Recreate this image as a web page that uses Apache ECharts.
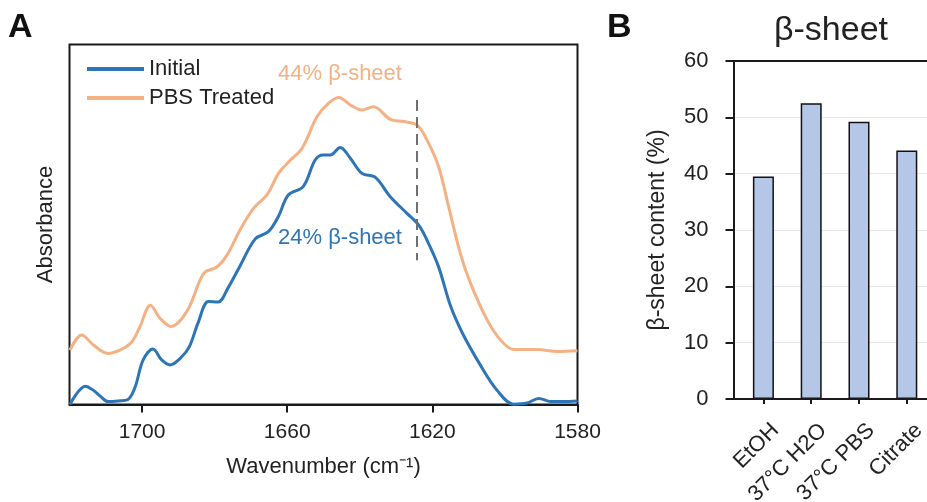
<!DOCTYPE html>
<html>
<head>
<meta charset="utf-8">
<script src="https://cdn.jsdelivr.net/npm/echarts@6/dist/echarts.min.js"></script>
<style>
html,body{margin:0;padding:0;background:#fff;}
#chart{width:927px;height:502px;}
</style>
</head>
<body>
<div id="chart"></div>
<script>
// ---------- Panel A: FTIR spectra ----------
const wnInitial = [1719.9,1715.6,1713.5,1711.6,1709.4,1706.6,1703.9,1701.9,1699.7,1697.0,1694.6,1692.3,1689.5,1687.0,1684.6,1681.7,1679.0,1676.3,1673.0,1668.8,1665.2,1662.5,1659.7,1655.6,1652.3,1650.1,1648.1,1645.4,1642.6,1639.4,1635.7,1631.6,1627.0,1623.8,1621.5,1618.3,1615.0,1611.7,1606.8,1602.2,1597.6,1593.9,1590.7,1587.4,1583.9,1580.0];
const absInitial = [0.000,0.051,0.040,0.024,0.008,0.010,0.014,0.049,0.124,0.154,0.124,0.110,0.128,0.160,0.226,0.286,0.285,0.324,0.385,0.460,0.480,0.521,0.582,0.605,0.679,0.693,0.693,0.714,0.684,0.642,0.631,0.577,0.531,0.499,0.457,0.383,0.274,0.198,0.110,0.040,0.001,0.004,0.017,0.008,0.008,0.010];
const wnPBS = [1719.9,1716.6,1713.4,1709.4,1706.1,1703.0,1700.6,1697.7,1695.0,1692.0,1687.7,1684.0,1682.6,1679.4,1676.6,1673.0,1669.3,1665.6,1662.4,1659.6,1655.9,1651.8,1648.6,1645.8,1642.6,1639.4,1636.2,1631.6,1627.9,1624.2,1621.5,1618.3,1615.5,1612.3,1609.5,1604.9,1601.2,1597.6,1591.1,1585.6,1580.0];
const absPBS = [0.151,0.193,0.165,0.142,0.151,0.172,0.216,0.276,0.239,0.217,0.258,0.346,0.368,0.382,0.415,0.485,0.545,0.582,0.642,0.674,0.712,0.799,0.837,0.853,0.832,0.818,0.827,0.792,0.786,0.776,0.735,0.661,0.549,0.420,0.337,0.235,0.179,0.153,0.153,0.147,0.149];
const wnTicks = [1700,1660,1620,1580];
const markerWn = 1624.4;
const markerRange = [0.846, 0.401];

// ---------- Panel B: beta-sheet content ----------
const conditions = ['EtOH','37°C H2O','37°C PBS','Citrate'];
const betaSheet = [39.5, 52.5, 49.2, 44.1];

const FONT = 'Liberation Sans, Arial, Helvetica, sans-serif';
const BLUE = '#2E75B6';
const ORANGE = '#F4B183';
const INK = '#222';

const chart = echarts.init(document.getElementById('chart'), null, {renderer:'canvas'});

const option = {
  backgroundColor:'#fff',
  animation:false,
  textStyle:{fontFamily:FONT},
  title:{
    text:'β-sheet', left:826, top:9, textAlign:'center',
    textStyle:{fontSize:34, fontWeight:'normal', color:INK, fontFamily:FONT}
  },
  legend:{
    orient:'vertical', left:87, top:58, padding:0,
    itemWidth:57, itemHeight:4, itemGap:7, icon:'rect',
    textStyle:{fontSize:22, color:INK, fontFamily:FONT},
    data:['Initial','PBS Treated']
  },
  grid:[
    {left:69.5, top:44.5, width:508, height:360, show:true, borderColor:'#1a1a1a', borderWidth:2, backgroundColor:'transparent', containLabel:false, outerBoundsMode:'none'},
    {left:733.5, top:61, right:-30, height:338, containLabel:false, outerBoundsMode:'none'},
    {left:739.5, top:61, width:191.2, height:338, containLabel:false, outerBoundsMode:'none'}
  ],
  xAxis:[
    {gridIndex:0, type:'value', min:1580, max:1720, inverse:true,
     axisLine:{show:true, lineStyle:{color:'#1a1a1a', width:2}},
     axisTick:{show:true, customValues:wnTicks, length:8, lineStyle:{color:'#1a1a1a', width:2}},
     axisLabel:{customValues:wnTicks, formatter:(v)=>String(v), fontSize:21, color:INK, margin:17, fontFamily:FONT},
     splitLine:{show:false},
     name:'Wavenumber (cm⁻¹)', nameLocation:'middle', nameGap:51,
     nameTextStyle:{fontSize:22, color:INK, fontFamily:FONT}
    },
    {gridIndex:1, type:'value', min:0, max:1, position:'bottom', z:5,
     axisLine:{show:true, lineStyle:{color:'#1a1a1a', width:2}},
     axisTick:{show:false}, axisLabel:{show:false}, splitLine:{show:false}},
    {gridIndex:1, type:'value', min:0, max:1, position:'top', z:5,
     axisLine:{show:true, lineStyle:{color:'#1a1a1a', width:2}},
     axisTick:{show:false}, axisLabel:{show:false}, splitLine:{show:false}},
    {gridIndex:2, type:'category', data:conditions,
     axisLine:{show:false},
     axisTick:{show:true, alignWithLabel:true, length:5, lineStyle:{color:'#1a1a1a', width:2}},
     axisLabel:{rotate:45, fontSize:22, color:INK, margin:16, interval:0, verticalAlign:'top', padding:[6,0,0,0], fontFamily:FONT}
    }
  ],
  yAxis:[
    {gridIndex:0, type:'value', min:0, max:1,
     axisLine:{show:false}, axisTick:{show:false}, axisLabel:{show:false}, splitLine:{show:false},
     name:'Absorbance', nameLocation:'middle', nameGap:13,
     nameTextStyle:{fontSize:22, color:INK, fontFamily:FONT}
    },
    {gridIndex:1, type:'value', min:0, max:60, interval:10,
     axisLine:{show:true, lineStyle:{color:'#1a1a1a', width:2}},
     axisTick:{show:true, inside:false, length:8, lineStyle:{color:'#1a1a1a', width:2}},
     axisLabel:{fontSize:22, color:INK, margin:25, fontFamily:FONT},
     splitLine:{show:true, showMinLine:false, showMaxLine:false, lineStyle:{color:'#e8e8e8', width:1}},
     name:'β-sheet content (%)', nameLocation:'middle', nameGap:64,
     nameTextStyle:{fontSize:23, color:INK, fontFamily:FONT}
    },
    {gridIndex:2, type:'value', min:0, max:60, show:false}
  ],
  series:[
    {name:'Initial', type:'line', xAxisIndex:0, yAxisIndex:0,
     data:wnInitial.map((w,i)=>[w, absInitial[i]]),
     smooth:0.35, symbol:'none', lineStyle:{color:BLUE, width:3}, itemStyle:{color:BLUE},
     markLine:{silent:true, symbol:'none', label:{show:false},
       lineStyle:{color:'#707070', width:2, type:[11,6]},
       data:[[{coord:[markerWn, markerRange[0]]},{coord:[markerWn, markerRange[1]]}]]}
    },
    {name:'PBS Treated', type:'line', xAxisIndex:0, yAxisIndex:0,
     data:wnPBS.map((w,i)=>[w, absPBS[i]]),
     smooth:0.35, symbol:'none', lineStyle:{color:ORANGE, width:3}, itemStyle:{color:ORANGE}
    },
    {name:'β-sheet', type:'bar', xAxisIndex:3, yAxisIndex:2,
     data:betaSheet, barWidth:21,
     itemStyle:{color:'#B4C7E7', borderColor:'#111', borderWidth:1.5}
    }
  ],
  graphic:[
    {type:'text', x:8, y:28, style:{text:'A', font:'bold 34px '+FONT, fill:'#111', textAlign:'left', textVerticalAlign:'middle', align:'left', verticalAlign:'middle'}},
    {type:'text', x:607, y:28, style:{text:'B', font:'bold 34px '+FONT, fill:'#111', textAlign:'left', textVerticalAlign:'middle', align:'left', verticalAlign:'middle'}},
    {type:'text', x:278, y:74, style:{text:'44% β-sheet', font:'22px '+FONT, fill:ORANGE, textAlign:'left', textVerticalAlign:'middle', align:'left', verticalAlign:'middle'}},
    {type:'text', x:278, y:238, style:{text:'24% β-sheet', font:'22px '+FONT, fill:BLUE, textAlign:'left', textVerticalAlign:'middle', align:'left', verticalAlign:'middle'}}
  ]
};
chart.setOption(option);
</script>
</body>
</html>
